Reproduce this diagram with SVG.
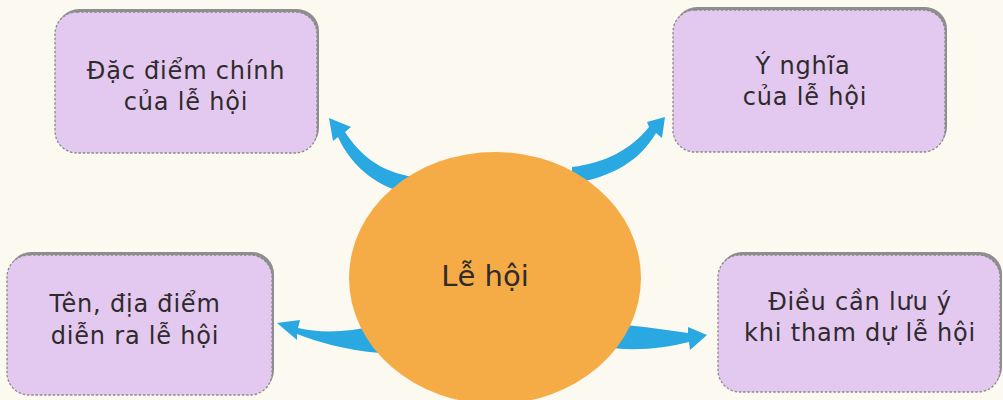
<svg xmlns="http://www.w3.org/2000/svg" width="1003" height="400" viewBox="0 0 1003 400">
<style>
.bg{fill:#FBF9F0}
.shadow{fill:#8e8e8e}
.box{fill:#E3C9EF;stroke:#8a8a8a;stroke-width:1.3;stroke-dasharray:2.5 1.8}
.t{font-family:"DejaVu Sans","Liberation Sans",sans-serif;font-size:24px;fill:#2f2a2c;text-anchor:middle;letter-spacing:0.8px}
.c{font-family:"DejaVu Sans","Liberation Sans",sans-serif;font-size:29px;fill:#2f2a2c;text-anchor:middle}
.arrow{fill:#29A8E2}
.hub{fill:#F6AC46}
</style>
<rect class="bg" x="0" y="0" width="1003" height="400"/>
<g id="connectors">
<path class="arrow" d="M329,118 L351,127 L345,132 C360,155 380,172 414,177 L414,195 C380,189 352,168 338,137 L333,141 Z"/>
<path class="arrow" d="M665,117 L662,138 L656,133 C640,160 615,176 572,184 L572,167 C605,163 630,150 649,127 L647,122 Z"/>
<path class="arrow" d="M277,323 L300,320 L298,328 C320,333 345,333 378,325 L380,353 C345,350 318,342 297,334 L297,340 Z"/>
<path class="arrow" d="M707,335 L690,350 L689,342 C665,348 640,351 612,348 L612,325 C640,325 665,330 688,333 L688,327 Z"/>
</g>
<g id="hub">
<ellipse class="hub" cx="495" cy="278" rx="146" ry="126"/>
<text class="c" x="485" y="286">Lễ hội</text>
</g>
<g id="node-dac-diem">
<rect class="shadow" x="57" y="9" width="262" height="141" rx="22"/>
<rect class="box" x="55" y="12" width="262" height="141" rx="22"/>
<text class="t" x="186" y="79">Đặc điểm chính</text>
<text class="t" x="186" y="110">của lễ hội</text>
</g>
<g id="node-y-nghia">
<rect class="shadow" x="675" y="7" width="272" height="142" rx="22"/>
<rect class="box" x="673" y="10" width="272" height="142" rx="22"/>
<text class="t" x="803" y="74">Ý nghĩa</text>
<text class="t" x="805" y="105">của lễ hội</text>
</g>
<g id="node-ten-dia-diem">
<rect class="shadow" x="9" y="252" width="265" height="140" rx="22"/>
<rect class="box" x="7" y="255" width="265" height="140" rx="22"/>
<text class="t" x="135" y="312">Tên, địa điểm</text>
<text class="t" x="135" y="344">diễn ra lễ hội</text>
</g>
<g id="node-dieu-can-luu-y">
<rect class="shadow" x="720" y="252" width="282" height="137" rx="22"/>
<rect class="box" x="718" y="255" width="282" height="137" rx="22"/>
<text class="t" x="860" y="310">Điều cần lưu ý</text>
<text class="t" x="860" y="341">khi tham dự lễ hội</text>
</g>
</svg>
